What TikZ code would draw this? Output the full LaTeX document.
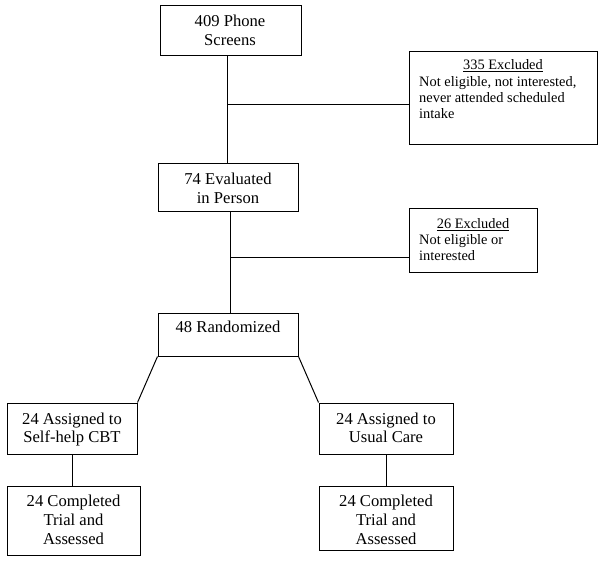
\documentclass[tikz,border=0pt]{standalone}
\usepackage{fontspec}
\setmainfont{Liberation Serif}
\newcommand\mlines[1]{\begin{tabular}[t]{@{}c@{}}#1\end{tabular}}
\newcommand\llines[1]{\begin{tabular}[t]{@{}l@{}}#1\end{tabular}}
\begin{document}
\begin{tikzpicture}[x=1pt,y=-1pt,
  box/.style={draw=black, line width=1pt, rectangle, inner sep=0pt},
  maintxt/.style={inner sep=0pt, anchor=base, font=\fontsize{16.6}{18.8}\selectfont},
  headtxt/.style={inner sep=0pt, anchor=base, font=\fontsize{14.4}{16}\selectfont},
  bodytxt/.style={inner sep=0pt, anchor=base west, font=\fontsize{14.4}{15.8}\selectfont},
  conn/.style={draw=black, line width=1pt}]
\fill[white] (0,0) rectangle (604,561);
\useasboundingbox (0,0) rectangle (604,561);

% boxes
\node[box, minimum width=141pt, minimum height=50pt] (screen) at (230.5,31) {};
\node[box, minimum width=188pt, minimum height=93pt] (excl1) at (503,98.5) {};
\node[box, minimum width=140pt, minimum height=48pt] (eval) at (228,188) {};
\node[box, minimum width=128pt, minimum height=63pt] (excl2) at (473,240.5) {};
\node[box, minimum width=140pt, minimum height=43pt] (rand) at (228,334.5) {};
\node[box, minimum width=130pt, minimum height=51pt] (selfhelp) at (72,428.5) {};
\node[box, minimum width=134pt, minimum height=51pt] (usual) at (386,428.5) {};
\node[box, minimum width=133pt, minimum height=69pt] (compl1) at (73.5,520.5) {};
\node[box, minimum width=134pt, minimum height=64pt] (compl2) at (386,518) {};

% texts
\node[maintxt] (screentxt) at (230,26.7) {\mlines{409 Phone\\Screens}};
\node[headtxt] (excl1head) at (503,69.8) {\underline{335 Excluded}};
\node[bodytxt] (excl1body) at (419,87) {\llines{Not eligible, not interested,\\never attended scheduled\\intake}};
\node[maintxt] (evaltxt) at (228,184.3) {\mlines{74 Evaluated\\in Person}};
\node[headtxt] (excl2head) at (473,228.3) {\underline{26 Excluded}};
\node[bodytxt] (excl2body) at (419,244.3) {\llines{Not eligible or\\interested}};
\node[maintxt] (randtxt) at (228,332.7) {48 Randomized};
\node[maintxt] (selfhelptxt) at (72,424) {\mlines{24 Assigned to\\Self-help CBT}};
\node[maintxt] (usualtxt) at (386,424) {\mlines{24 Assigned to\\Usual Care}};
\node[maintxt] (compl1txt) at (73.5,506.7) {\mlines{24 Completed\\Trial and\\Assessed}};
\node[maintxt] (compl2txt) at (386,506.7) {\mlines{24 Completed\\Trial and\\Assessed}};

% junctions
\coordinate (j1) at (227,105);
\coordinate (j2) at (230,257);

% connectors
\draw[conn] (screen.south -| j1) -- (eval.north -| j1);
\draw[conn] (j1) -- (excl1.west |- j1);
\draw[conn] (eval.south -| j2) -- (rand.north -| j2);
\draw[conn] (j2) -- (excl2.west |- j2);
\draw[conn] (rand.south west) -- (selfhelp.north east);
\draw[conn] (rand.south east) -- (usual.north west);
\draw[conn] (selfhelp.south) -- (compl1.north -| selfhelp.south);
\draw[conn] (usual.south) -- (compl2.north);
\end{tikzpicture}
\end{document}
